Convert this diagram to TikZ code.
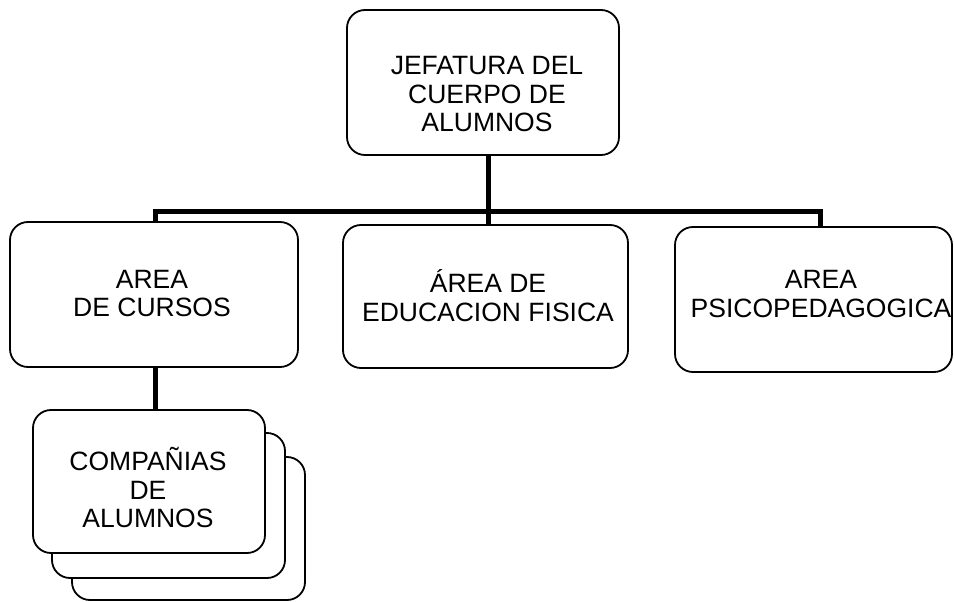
\documentclass[tikz,border=0pt]{standalone}
\usepackage{fontspec}
\setmainfont{Liberation Sans}
\begin{document}
\begin{tikzpicture}[x=1pt,y=-1pt,
  box/.style={draw=black,line width=1.8pt,rounded corners=18pt,fill=white,inner sep=0pt},
  txt/.style={align=center,inner sep=0pt,font=\fontsize{26.5}{28.5}\selectfont},
  conn/.style={draw=black,line width=5pt}]
\useasboundingbox (0,0) rectangle (954,602);
% boxes
\node[box,minimum width=272pt,minimum height=145pt] (top) at (483,82.5) {};
\node[box,minimum width=288pt,minimum height=145pt] (left) at (154,294.5) {};
\node[box,minimum width=285pt,minimum height=143pt] (mid) at (485.5,296.5) {};
\node[box,minimum width=277pt,minimum height=145pt] (right) at (813.5,299.5) {};
\node[box,minimum width=233pt,minimum height=143pt] (comp3) at (188.5,528.5) {};
\node[box,minimum width=233pt,minimum height=145pt] (comp2) at (168.5,505.5) {};
\node[box,minimum width=232pt,minimum height=143pt] (comp1) at (149,481.5) {};
% texts
\node[txt] (ttop) at (487,94.5) {JEFATURA DEL\\CUERPO DE\\ALUMNOS};
\node[txt] (tleft) at (152,293.5) {AREA\\DE CURSOS};
\node[txt] (tmid) at (488,295.5) {ÁREA DE\\EDUCACION FISICA};
\node[txt] (tright) at (821,294) {AREA\\PSICOPEDAGOGICA};
\node[txt] (tcomp) at (148,487.5) {COMPAÑIAS\\DE\\ALUMNOS};
% connectors
\coordinate (bus) at (488,211);
\coordinate (busL) at (155,211);
\coordinate (busR) at (820,211);
\draw[conn] ([xshift=5pt]top.south) -- (bus);
\draw[conn] (busL |- left.north) -- (busL) -- (busR) -- (busR |- right.north);
\draw[conn] (bus) -- (bus |- mid.north);
\draw[conn] (busL |- left.south) -- (busL |- comp1.north);
\end{tikzpicture}
\end{document}
